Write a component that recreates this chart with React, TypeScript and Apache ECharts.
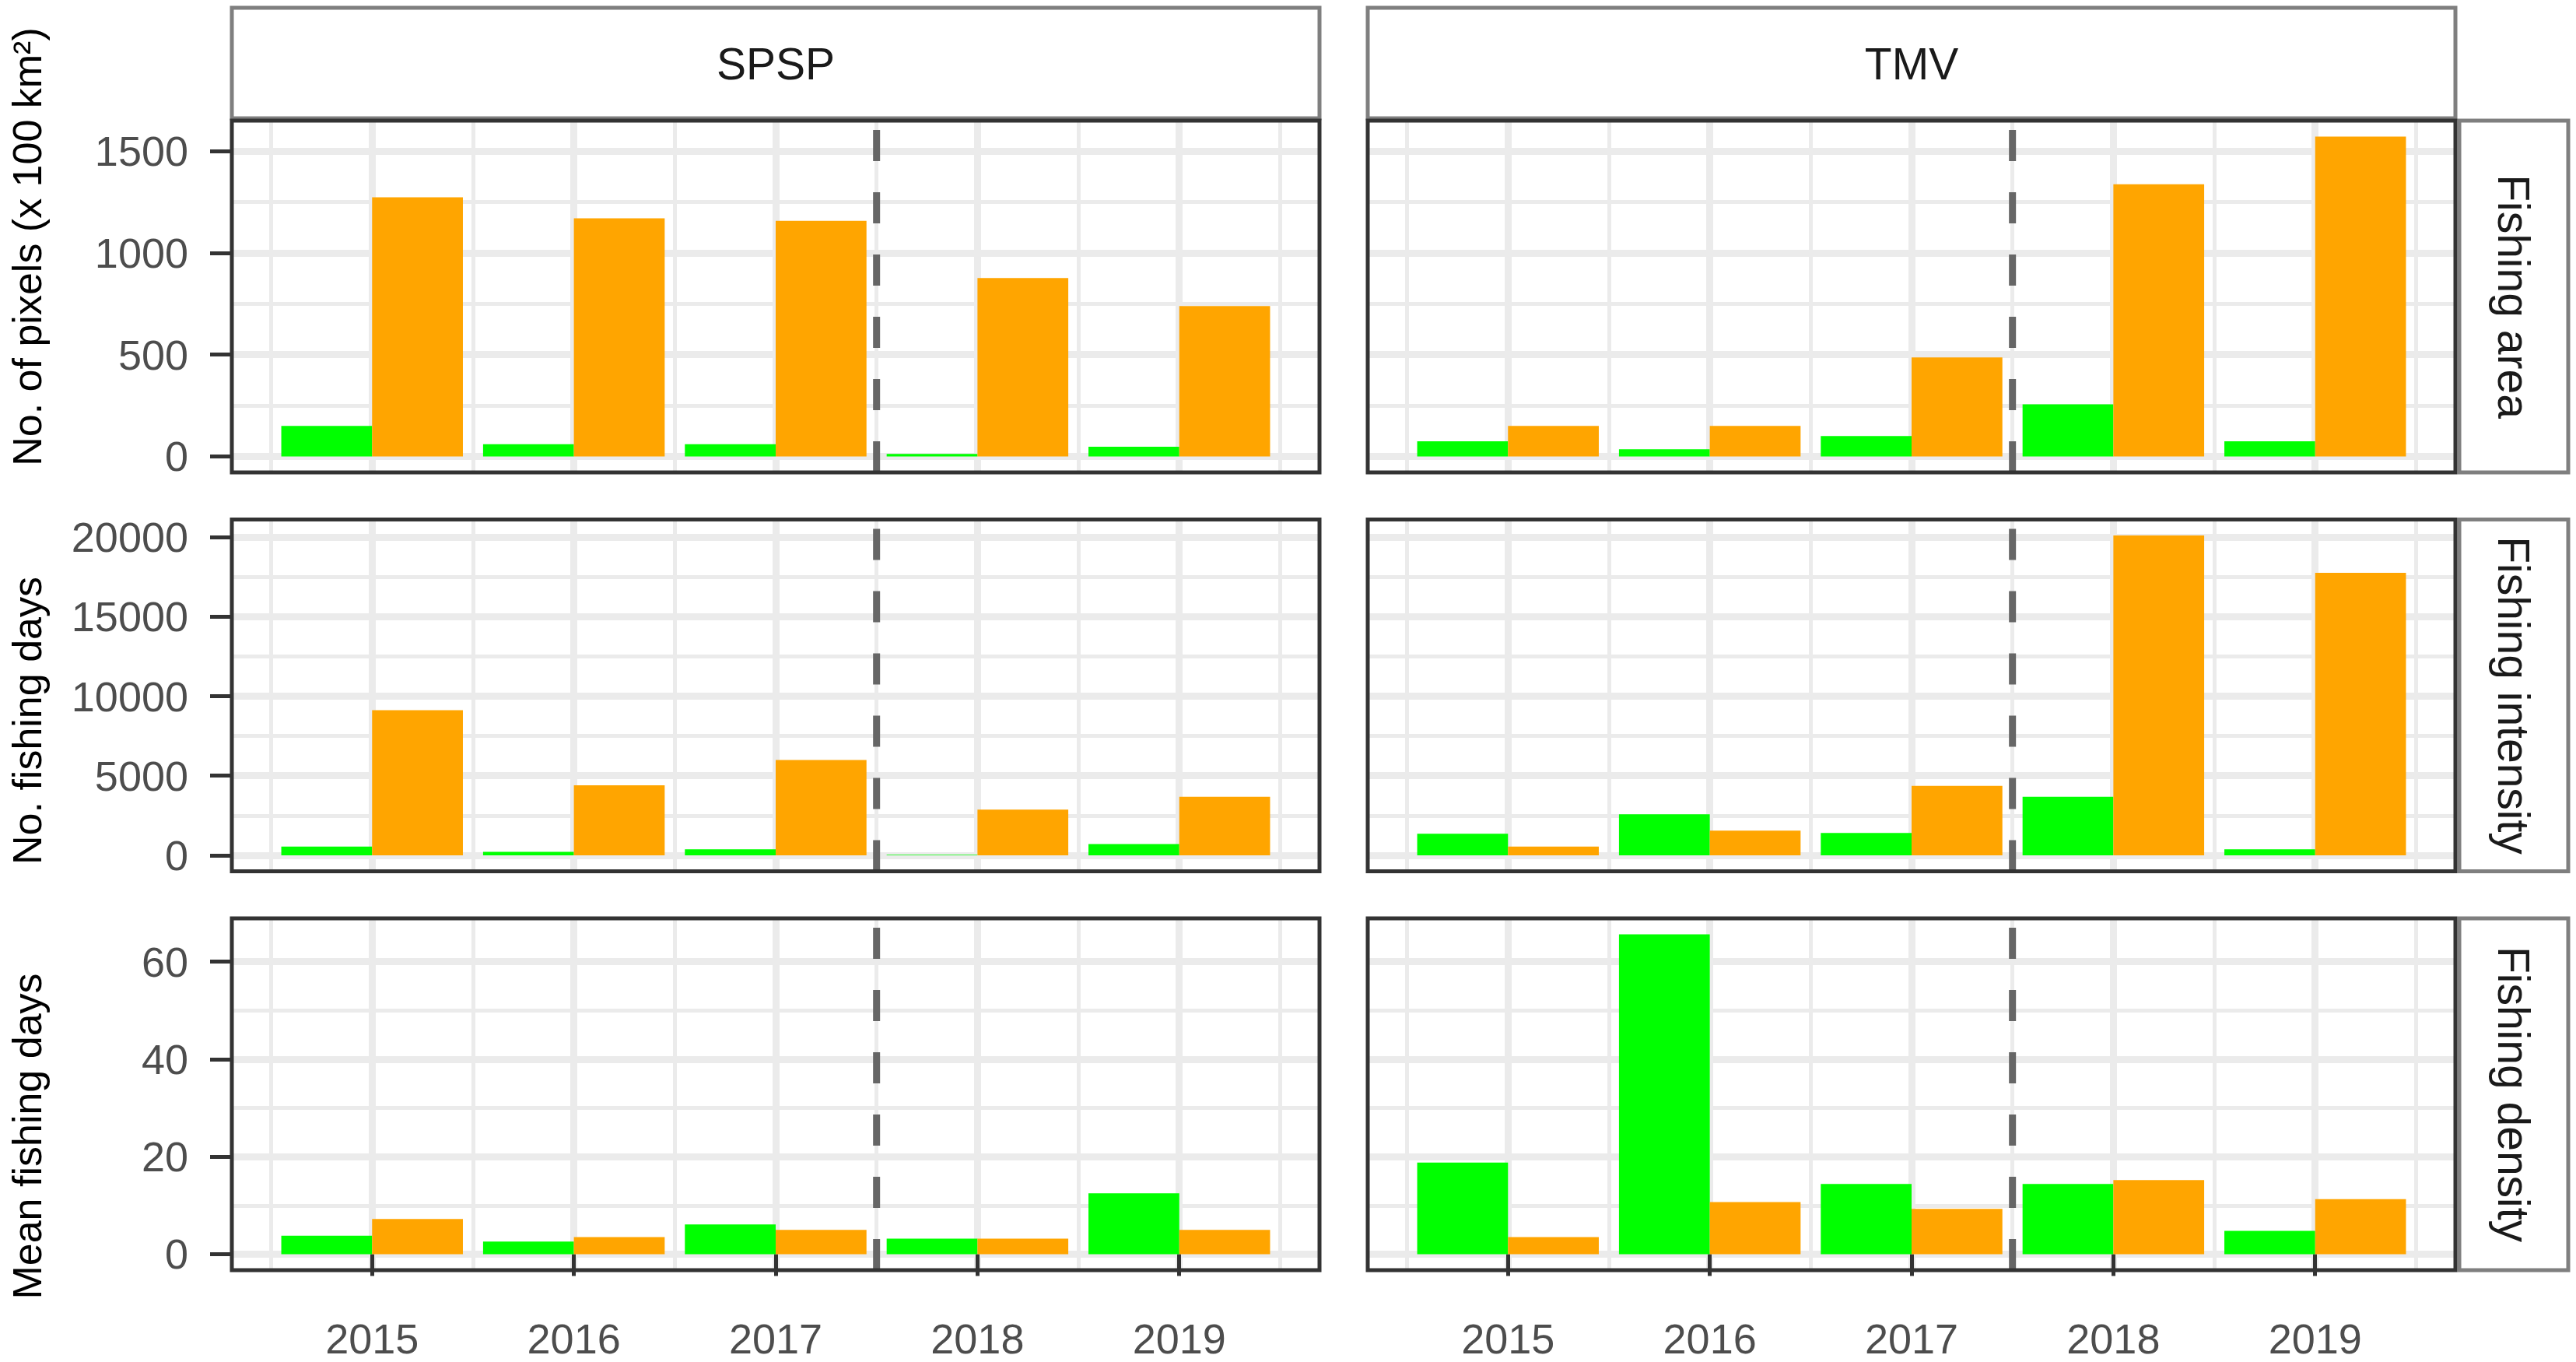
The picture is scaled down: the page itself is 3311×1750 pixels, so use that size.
import React, { useEffect, useRef } from "react";
import * as echarts from "echarts";

// ---------- data ----------
const years = [2015, 2016, 2017, 2018, 2019];
const sites = ["SPSP", "TMV"];
const metrics = ["Fishing area", "Fishing intensity", "Fishing density"];
const yTitles = ["No. of pixels (x 100 km²)", "No. fishing days", "Mean fishing days"];

const areaGreenSPSP = [150, 60, 60, 12, 48];
const areaOrangeSPSP = [1273, 1170, 1157, 876, 739];
const areaGreenTMV = [74, 35, 100, 256, 74];
const areaOrangeTMV = [150, 150, 486, 1337, 1571];

const daysGreenSPSP = [542, 215, 376, 40, 703];
const daysOrangeSPSP = [9120, 4400, 5995, 2867, 3683];
const daysGreenTMV = [1353, 2574, 1402, 3683, 376];
const daysOrangeTMV = [542, 1549, 4367, 20100, 17753];

const meanGreenSPSP = [3.8, 2.6, 6.1, 3.2, 12.5];
const meanOrangeSPSP = [7.2, 3.5, 5.0, 3.2, 5.0];
const meanGreenTMV = [18.8, 65.6, 14.4, 14.4, 4.8];
const meanOrangeTMV = [3.5, 10.7, 9.3, 15.2, 11.3];

const yMajorTicks = [
  [0, 500, 1000, 1500],
  [0, 5000, 10000, 15000, 20000],
  [0, 20, 40, 60],
];
const yMinorTicks = [
  [250, 750, 1250],
  [2500, 7500, 12500, 17500],
  [10, 30, 50],
];
const xMinorTicks = [2014.5, 2015.5, 2016.5, 2017.5, 2018.5, 2019.5];
const breakYear = 2017.5;

// ---------- layout / style ----------
const FONT = "Liberation Sans, Arial, Helvetica, sans-serif";
const GREEN = "#00FF00";
const ORANGE = "#FFA500";
const GRID_COL = "#EBEBEB";
const colLeft = [298, 1758];
const colWidth = 1398;
const rowTop = [155, 667.5, 1180];
const rowHeight = 452;
const yTitleCenters = [317, 926, 1460];

function buildOption() {
  const green = [
    [areaGreenSPSP, areaGreenTMV],
    [daysGreenSPSP, daysGreenTMV],
    [meanGreenSPSP, meanGreenTMV],
  ];
  const orange = [
    [areaOrangeSPSP, areaOrangeTMV],
    [daysOrangeSPSP, daysOrangeTMV],
    [meanOrangeSPSP, meanOrangeTMV],
  ];
  const barHalf = 0.45;
  const xSpan = years[years.length - 1] + barHalf - (years[0] - barHalf);
  const xMin = years[0] - barHalf - 0.05 * xSpan;
  const xMax = years[years.length - 1] + barHalf + 0.05 * xSpan;

  const grids: any[] = [];
  const xAxes: any[] = [];
  const yAxes: any[] = [];
  const series: any[] = [];
  const graphics: any[] = [];

  for (let r = 0; r < 3; r++) {
    const M = Math.max(...green[r][0], ...green[r][1], ...orange[r][0], ...orange[r][1]);
    const yMin = -0.05 * M;
    const yMax = 1.05 * M;
    for (let c = 0; c < 2; c++) {
      const i = r * 2 + c;
      grids.push({
        left: colLeft[c],
        top: rowTop[r],
        width: colWidth,
        height: rowHeight,
        containLabel: false,
        outerBoundsMode: "none",
        show: false,
      });
      // major x
      xAxes.push({
        type: "value",
        gridIndex: i,
        min: xMin,
        max: xMax,
        axisLine: { show: false },
        axisTick: {
          show: r === 2,
          customValues: years,
          length: 28,
          lineStyle: { color: "#333333", width: 5 },
        },
        axisLabel: {
          show: r === 2,
          customValues: years,
          formatter: (v: number) => String(v),
          margin: 63,
          fontSize: 54,
          lineHeight: 50,
          fontFamily: FONT,
          color: "#4D4D4D",
        },
        splitLine: { show: true, lineStyle: { color: GRID_COL, width: 9 } },
      });
      // minor x
      xAxes.push({
        type: "value",
        gridIndex: i,
        min: xMin,
        max: xMax,
        axisLine: { show: false },
        axisTick: { show: false, customValues: xMinorTicks },
        axisLabel: { show: false, customValues: xMinorTicks },
        splitLine: { show: true, lineStyle: { color: GRID_COL, width: 5 } },
      });
      // major y
      yAxes.push({
        type: "value",
        gridIndex: i,
        min: yMin,
        max: yMax,
        axisLine: { show: false },
        axisTick: {
          show: c === 0,
          customValues: yMajorTicks[r],
          length: 28,
          lineStyle: { color: "#333333", width: 5 },
        },
        axisLabel: {
          show: c === 0,
          customValues: yMajorTicks[r],
          formatter: (v: number) => String(v),
          margin: 56,
          fontSize: 54,
          fontFamily: FONT,
          color: "#4D4D4D",
        },
        splitLine: { show: true, lineStyle: { color: GRID_COL, width: 9 } },
      });
      // minor y
      yAxes.push({
        type: "value",
        gridIndex: i,
        min: yMin,
        max: yMax,
        axisLine: { show: false },
        axisTick: { show: false, customValues: yMinorTicks[r] },
        axisLabel: { show: false, customValues: yMinorTicks[r] },
        splitLine: { show: true, lineStyle: { color: GRID_COL, width: 5 } },
      });

      series.push({
        type: "bar",
        name: "Group 1",
        xAxisIndex: 2 * i,
        yAxisIndex: 2 * i,
        data: years.map((y, k) => [y, green[r][c][k]]),
        barWidth: "45%",
        barGap: "0%",
        itemStyle: { color: GREEN },
        silent: true,
      });
      series.push({
        type: "bar",
        name: "Group 2",
        xAxisIndex: 2 * i,
        yAxisIndex: 2 * i,
        data: years.map((y, k) => [y, orange[r][c][k]]),
        barWidth: "45%",
        barGap: "0%",
        itemStyle: { color: ORANGE },
        silent: true,
      });
      // dashed vertical reference line at the break year
      series.push({
        type: "custom",
        name: "break",
        xAxisIndex: 2 * i,
        yAxisIndex: 2 * i,
        silent: true,
        z: 5,
        data: [[breakYear]],
        renderItem: (params: any, api: any) => {
          const bottom = api.coord([api.value(0), yMin]);
          const top = api.coord([api.value(0), yMax]);
          return {
            type: "line",
            shape: { x1: bottom[0], y1: bottom[1], x2: top[0], y2: top[1] },
            style: { stroke: "#666666", lineWidth: 9, lineDash: [40, 40], fill: null },
          };
        },
      });

      // panel border
      graphics.push({
        type: "rect",
        z: 100,
        silent: true,
        shape: { x: colLeft[c], y: rowTop[r], width: colWidth, height: rowHeight },
        style: { fill: "none", stroke: "#333333", lineWidth: 5 },
      });
    }
    // right strip
    graphics.push({
      type: "rect",
      z: 90,
      silent: true,
      shape: { x: 3161, y: rowTop[r], width: 140, height: rowHeight },
      style: { fill: "#FFFFFF", stroke: "#7F7F7F", lineWidth: 5 },
    });
    graphics.push({
      type: "text",
      z: 91,
      silent: true,
      x: 3231,
      y: rowTop[r] + rowHeight / 2,
      rotation: -Math.PI / 2,
      style: {
        text: metrics[r],
        fontSize: 57,
        fontFamily: FONT,
        fill: "#1A1A1A",
        align: "center",
        verticalAlign: "middle",
      },
    });
    // y title
    graphics.push({
      type: "text",
      z: 91,
      silent: true,
      x: 35,
      y: yTitleCenters[r],
      rotation: Math.PI / 2,
      style: {
        text: yTitles[r],
        fontSize: 52,
        fontFamily: FONT,
        fill: "#000000",
        align: "center",
        verticalAlign: "middle",
      },
    });
  }
  // top strips
  for (let c = 0; c < 2; c++) {
    graphics.push({
      type: "rect",
      z: 90,
      silent: true,
      shape: { x: colLeft[c], y: 10, width: colWidth, height: 142 },
      style: { fill: "#FFFFFF", stroke: "#7F7F7F", lineWidth: 5 },
    });
    graphics.push({
      type: "text",
      z: 91,
      silent: true,
      x: colLeft[c] + colWidth / 2,
      y: 82,
      style: {
        text: sites[c],
        fontSize: 57,
        fontFamily: FONT,
        fill: "#1A1A1A",
        align: "center",
        verticalAlign: "middle",
      },
    });
  }

  return {
    animation: false,
    backgroundColor: "#FFFFFF",
    textStyle: { fontFamily: FONT },
    grid: grids,
    xAxis: xAxes,
    yAxis: yAxes,
    series,
    graphic: graphics,
  };
}

export default function App() {
  const ref = useRef<HTMLDivElement>(null);
  useEffect(() => {
    if (!ref.current) return;
    const chart = echarts.init(ref.current, null, { renderer: "svg" });
    chart.setOption(buildOption() as any);
    return () => chart.dispose();
  }, []);
  return (
    <div
      ref={ref}
      style={{ position: "absolute", left: 0, top: 0, width: 3311, height: 1750, background: "#FFFFFF" }}
    />
  );
}
